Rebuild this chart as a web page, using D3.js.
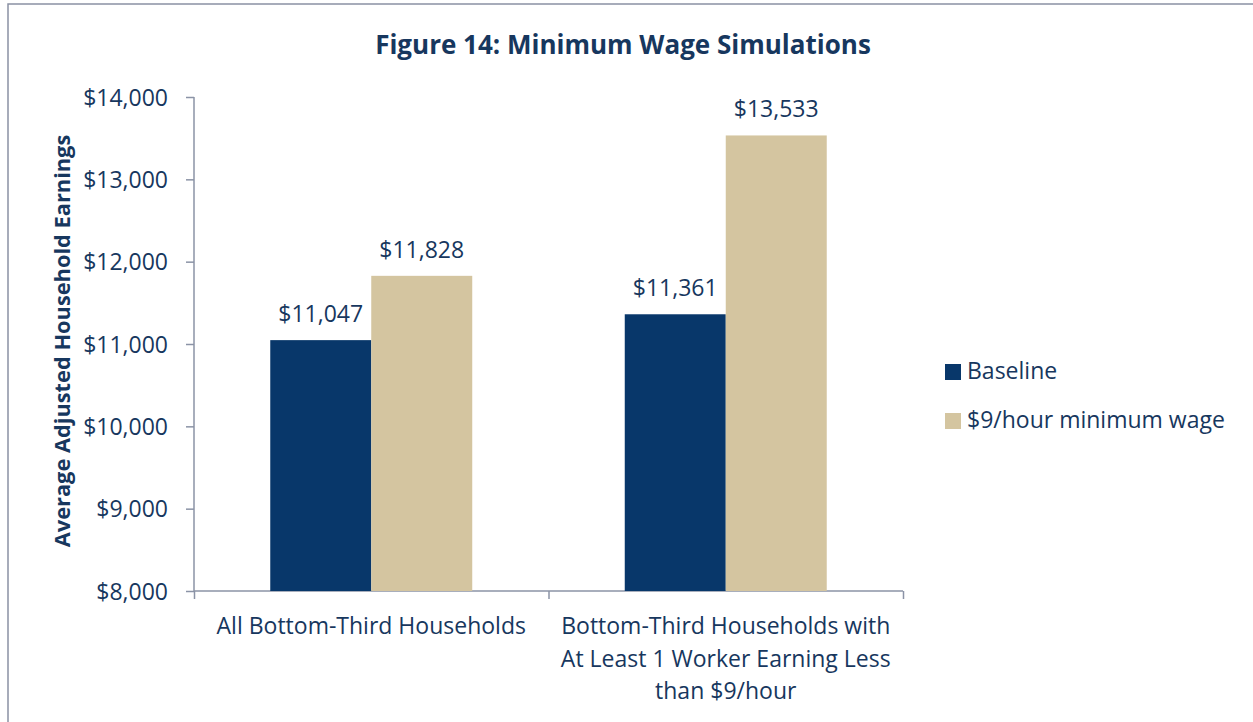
<!DOCTYPE html>
<html>
<head>
<meta charset="utf-8">
<script src="https://cdn.jsdelivr.net/npm/d3@7"></script>
<style>
  body { margin: 0; background: #fff; }
  svg text { font-family: "Open Sans", "Noto Sans", sans-serif; fill: #17375E; }
  .axis path, .axis line { stroke: #8B93A6; stroke-width: 1.5; }
</style>
</head>
<body>
<svg class="chart"></svg>
<script>
var categories = [
  ["All Bottom-Third Households"],
  ["Bottom-Third Households with", "At Least 1 Worker Earning Less", "than $9/hour"]
];
var seriesNames = ["Baseline", "$9/hour minimum wage"];
var baselineValues = [11047, 11361];
var wageValues = [11828, 13533];
var yTicks = [8000, 9000, 10000, 11000, 12000, 13000, 14000];

var width = 1253, height = 722;
var colors = ["#08376A", "#D4C5A0"];
var fontSize = 23;

var svg = d3.select('.chart').attr('width', width).attr('height', height);

// outer frame
svg.append('rect')
  .attr('x', 8).attr('y', 4)
  .attr('width', 1260).attr('height', 740)
  .attr('fill', 'none')
  .attr('stroke', '#8B91A4')
  .attr('stroke-width', 1.5);

var plotLeft = 194, plotRight = 903, plotTop = 97, plotBottom = 591;

var x0 = d3.scaleBand().domain(d3.range(categories.length)).range([plotLeft, plotRight]);
var x1 = d3.scaleBand().domain(seriesNames).range([0, x0.bandwidth()]).paddingOuter(0.755).paddingInner(0);
var y = d3.scaleLinear().domain([8000, 14000]).range([plotBottom, plotTop]);

var fmt = function(d) { return '$' + d3.format(',')(d); };

// title
svg.append('text')
  .text('Figure 14: Minimum Wage Simulations')
  .attr('x', 623).attr('y', 54)
  .attr('text-anchor', 'middle')
  .attr('font-size', 26)
  .attr('font-weight', 'bold');

// y axis
var yAxis = d3.axisLeft(y).tickValues(yTicks).tickFormat(fmt).tickSize(8).tickPadding(18);
var gy = svg.append('g').attr('class', 'axis').attr('transform', 'translate(' + plotLeft + ',0)').call(yAxis);
gy.select('.domain').attr('d', 'M0,' + plotTop + 'V' + plotBottom);
gy.selectAll('text').attr('font-size', fontSize).attr('fill', '#17375E').attr('dy', '0.35em');

// x axis
var xAxis = d3.axisBottom(d3.scaleLinear().domain([0, 2]).range([plotLeft, plotRight]))
  .tickValues([0, 1, 2]).tickSize(8).tickFormat('');
var gx = svg.append('g').attr('class', 'axis').attr('transform', 'translate(0,' + plotBottom + ')').call(xAxis);
gx.select('.domain').attr('d', 'M' + plotLeft + ',0H' + plotRight);

// y axis title
svg.append('text')
  .text('Average Adjusted Household Earnings')
  .attr('transform', 'translate(70,' + 341 + ') rotate(-90)')
  .attr('text-anchor', 'middle')
  .attr('font-size', 21.8)
  .attr('font-weight', 'bold');

// bars
var rows = categories.map(function(c, i) {
  return [
    {cat: i, name: seriesNames[0], value: baselineValues[i], color: colors[0]},
    {cat: i, name: seriesNames[1], value: wageValues[i], color: colors[1]}
  ];
});

var groups = svg.selectAll('.bar-g').data(rows).enter().append('g')
  .attr('class', 'bar-g')
  .attr('transform', function(d, i) { return 'translate(' + x0(i) + ',0)'; });

groups.selectAll('rect').data(function(d) { return d; }).enter().append('rect')
  .attr('x', function(d) { return x1(d.name); })
  .attr('width', x1.bandwidth())
  .attr('y', function(d) { return y(d.value); })
  .attr('height', function(d) { return plotBottom - y(d.value); })
  .attr('fill', function(d) { return d.color; });

groups.selectAll('.val').data(function(d) { return d; }).enter().append('text')
  .attr('class', 'val')
  .text(function(d) { return fmt(d.value); })
  .attr('x', function(d) { return x1(d.name) + x1.bandwidth() / 2; })
  .attr('y', function(d) { return y(d.value) - 18; })
  .attr('text-anchor', 'middle')
  .attr('font-size', fontSize);

// category labels
categories.forEach(function(lines, i) {
  var t = svg.append('text')
    .attr('text-anchor', 'middle')
    .attr('font-size', fontSize);
  lines.forEach(function(line, j) {
    t.append('tspan')
      .attr('x', x0(i) + x0.bandwidth() / 2)
      .attr('y', 634 + j * 32.5)
      .text(line);
  });
});

// legend
var legend = svg.selectAll('.legend').data(seriesNames).enter().append('g')
  .attr('class', 'legend')
  .attr('transform', function(d, i) { return 'translate(945,' + (364 + i * 49) + ')'; });
legend.append('rect').attr('width', 16).attr('height', 16)
  .attr('fill', function(d, i) { return colors[i]; });
legend.append('text').text(function(d) { return d; })
  .attr('x', 22).attr('y', 14.5)
  .attr('font-size', fontSize);
</script>
</body>
</html>
